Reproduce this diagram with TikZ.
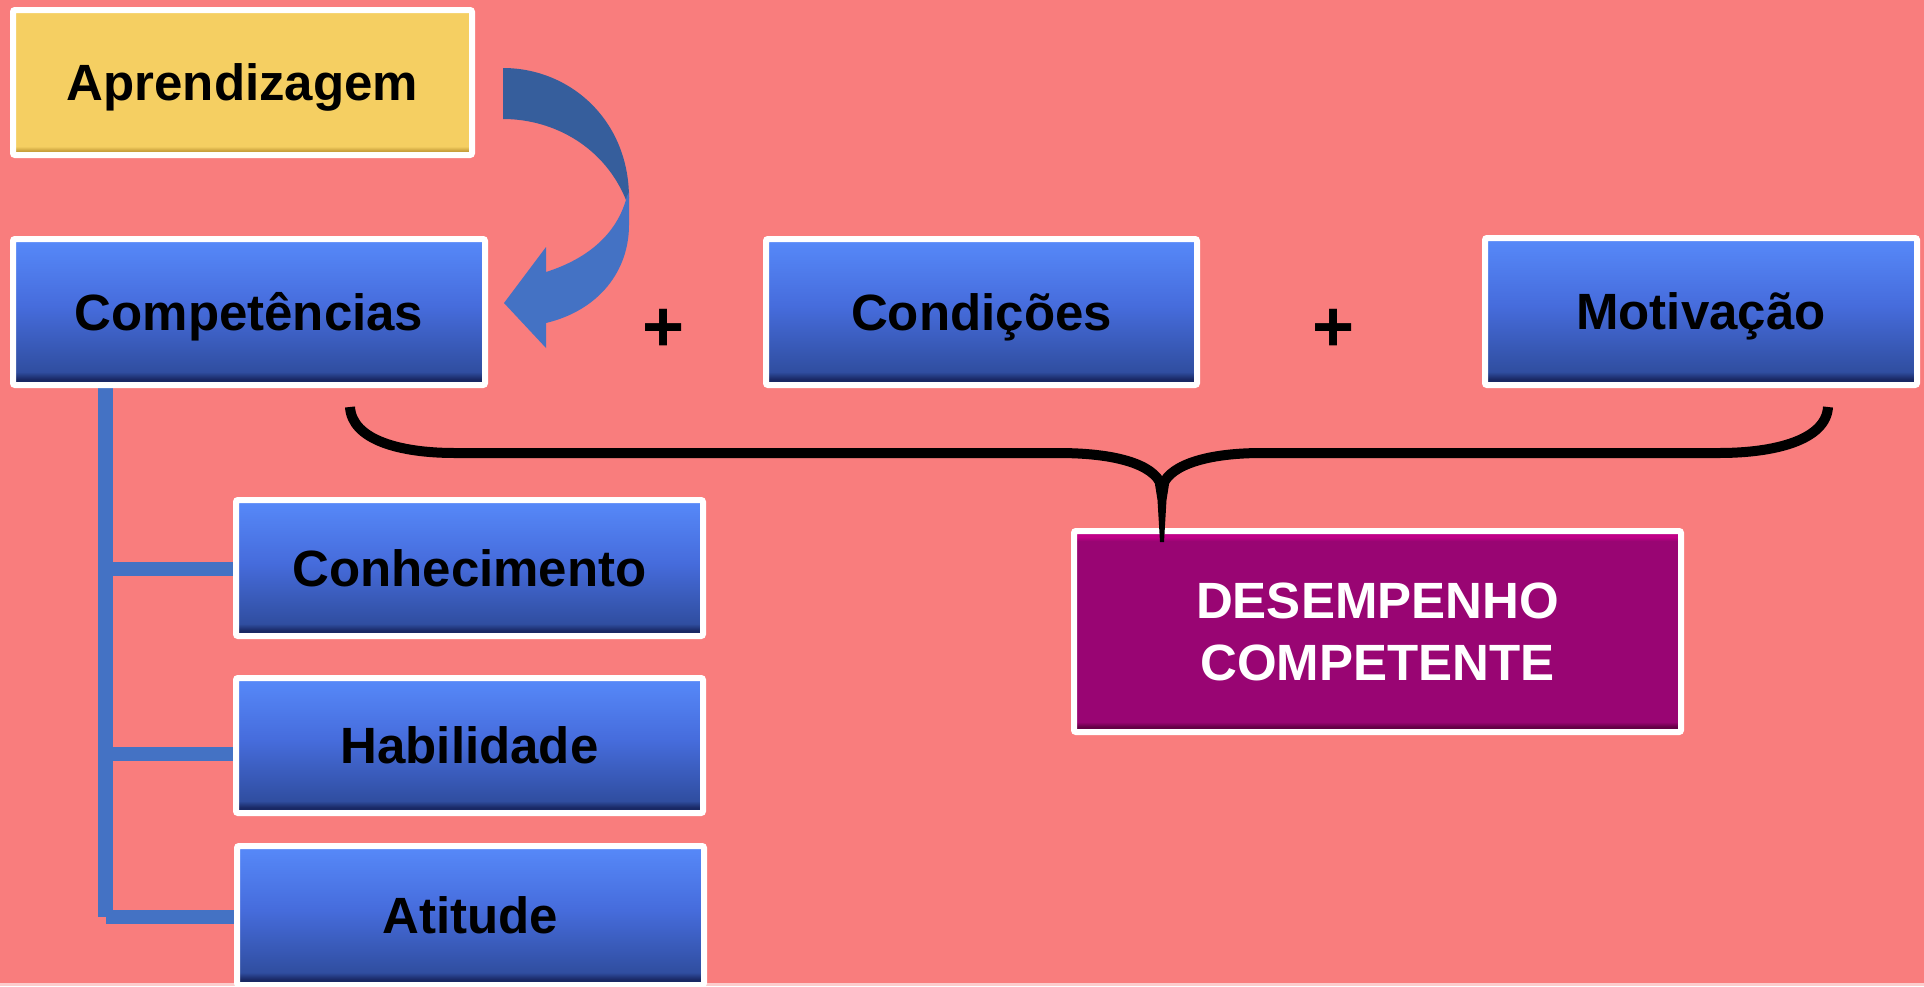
\documentclass[tikz,border=0pt]{standalone}
\usepackage{fontspec}
\setmainfont{Liberation Sans}
\definecolor{bgsalmon}{RGB}{249,125,125}
\definecolor{bgpale}{RGB}{252,205,205}
\definecolor{treeblue}{RGB}{68,114,196}
\definecolor{arrdark}{RGB}{54,94,156}
\definecolor{btop}{RGB}{86,136,248}
\definecolor{bmid}{RGB}{70,108,220}
\definecolor{bbot}{RGB}{48,78,160}
\definecolor{bedge}{RGB}{25,40,100}
\definecolor{yfill}{RGB}{245,207,98}
\definecolor{yedge}{RGB}{200,160,60}
\definecolor{pfill}{RGB}{153,5,115}
\definecolor{ptop}{RGB}{192,0,135}
\definecolor{pedge}{RGB}{100,0,70}
\pgfdeclareverticalshading{blueshade}{100bp}{color(0bp)=(bedge); color(25bp)=(bedge); color(27bp)=(bedge); color(29.5bp)=(bbot); color(52bp)=(bmid); color(74bp)=(btop); color(100bp)=(btop)}
\pgfdeclareverticalshading{yellowshade}{100bp}{color(0bp)=(yedge); color(26.5bp)=(yedge); color(28bp)=(yfill); color(100bp)=(yfill)}
\pgfdeclareverticalshading{purpleshade}{100bp}{color(0bp)=(pedge); color(26.3bp)=(pedge); color(27.5bp)=(pfill); color(72.5bp)=(pfill); color(73.5bp)=(ptop); color(100bp)=(ptop)}
\begin{document}
\begin{tikzpicture}[x=1pt,y=-1pt,
  cbox/.style={rectangle, draw=white, line width=6pt, rounded corners=2pt, inner sep=0pt,
    font=\bfseries\fontsize{51pt}{61pt}\selectfont, text height=36.5pt, text depth=0pt},
  bluebox/.style={cbox, shading=blueshade},
  yellowbox/.style={cbox, shading=yellowshade},
  purplebox/.style={rectangle, draw=white, line width=6pt, rounded corners=2pt, inner sep=0pt,
    shading=purpleshade, text=white, align=center, font=\bfseries\fontsize{51pt}{62pt}\selectfont},
  plussign/.style={font=\bfseries\fontsize{72pt}{80pt}\selectfont, inner sep=0pt},
  treeline/.style={draw=treeblue, line width=14pt},
  bracestroke/.style={draw=black, line width=10pt}
]
% background
\fill[bgsalmon] (0,0) rectangle (1924,986);
\fill[bgpale] (0,983) rectangle (1924,986);
\useasboundingbox (0,0) rectangle (1924,986);

% coordinates for the tree
\coordinate (trunk) at (105.5,0);
\coordinate (tbot) at (105.5,917);
\coordinate (b1) at (105.5,569);
\coordinate (b2) at (105.5,754);
\coordinate (b3) at (105.5,917);

% placeholder nodes for names used by the tree
\path (249,312) node[minimum width=472, minimum height=146] (compP) {};
\path (469.5,568) node[minimum width=467, minimum height=136] (conhP) {};
\path (469.5,745.5) node[minimum width=467, minimum height=135] (habilP) {};
\path (470.5,915.5) node[minimum width=467, minimum height=139] (atitP) {};

% tree connectors
\draw[treeline, line width=15pt] (trunk |- compP.center) -- (tbot);
\draw[treeline] (b1) -- (b1 -| conhP.center);
\draw[treeline] (b2) -- (b2 -| habilP.center);
\draw[treeline] (b3) -- (b3 -| atitP.center);

% curved arrow from Aprendizagem to Competencias
\fill[arrdark] (503,68) .. controls (570,68) and (629,120) .. (629,198)
  -- (626,200) .. controls (605,148) and (555,119) .. (503,119) -- cycle;
\fill[treeblue] (629,192) -- (629,225) .. controls (629,270) and (600,310) .. (546,323)
  -- (546,348) -- (504,303) -- (546,247) -- (546,272)
  .. controls (590,258) and (618,232) .. (627,196) -- cycle;

% boxes
\node[yellowbox, minimum width=459, minimum height=145] (apr) at (242.5,82.5) {Aprendizagem};
\node[bluebox, minimum width=472, minimum height=146] (comp) at (249,312) {Competências};
\node[bluebox, minimum width=431, minimum height=146] (cond) at (981.5,312) {Condições};
\node[bluebox, minimum width=432, minimum height=147] (motiv) at (1701,311.5) {Motivação};
\node[bluebox, minimum width=467, minimum height=136] (conh) at (469.5,568) {Conhecimento};
\node[bluebox, minimum width=467, minimum height=135] (habil) at (469.5,745.5) {Habilidade};
\node[bluebox, minimum width=467, minimum height=139] (atit) at (470.5,915.5) {Atitude};
\node[purplebox, minimum width=607, minimum height=201] (desemp) at (1377.5,631.5) {DESEMPENHO\\COMPETENTE};

% plus signs
\node[plussign] (plus1) at (664,330) {+};
\node[plussign] (plus2) at (1334,330) {+};

% brace
\coordinate (bl) at (350,407);
\coordinate (br) at (1828,407);
\coordinate (bc) at (1162,488);
\coordinate (btip) at (1162,542);
\draw[bracestroke] (bl) .. controls (352,440) and (400,453) .. (455,453) -- (1058,453)
  .. controls (1125,453) and (1158,468) .. (bc);
\draw[bracestroke] (bc) .. controls (1166,468) and (1200,453) .. (1262,453) -- (1719,453)
  .. controls (1775,453) and (1826,440) .. (br);
\fill[black] (1154,478) -- (1170,478) -- (1166.5,500) -- (1164,542) -- (1160,542) -- (1157.5,500) -- cycle;
\end{tikzpicture}
\end{document}
